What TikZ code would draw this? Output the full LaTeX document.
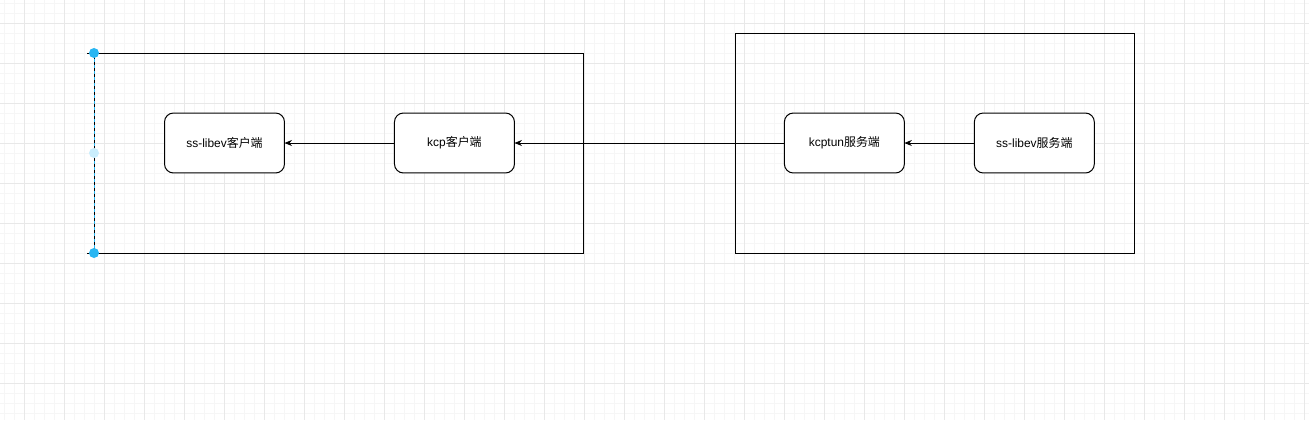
\documentclass[tikz,border=0pt]{standalone}
\usepackage{fontspec}
\setmainfont{Liberation Sans}
\newfontfamily\cjk{Noto Sans CJK SC}
\usetikzlibrary{arrows.meta, positioning}
\definecolor{GridMinor}{RGB}{246,246,246}
\definecolor{GridMajor}{RGB}{232,232,232}
\definecolor{HandleBlue}{RGB}{41,182,242}

\begin{document}
\begin{tikzpicture}[x=0.02cm, y=-0.02cm, line width=0.57pt, node distance=2.2cm,
    svc/.style={draw, fill=white, rounded corners=0.18cm, minimum width=2.4cm, minimum height=1.2cm, inner sep=0pt, outer sep=0pt, font=\fontsize{6.8}{8}\selectfont},
    conn/.style={-{Stealth[length=0.15cm, width=0.12cm]}},
    grip/.style={circle, fill=HandleBlue, inner sep=0pt, minimum size=0.2cm},
    selline/.style={HandleBlue, dash pattern=on 0.06cm off 0.06cm}]

    \useasboundingbox (0,0) rectangle (1309,420);

    % Grid
    \foreach \gx in {4,14,...,1304} \draw[GridMinor, line width=0.4pt] (\gx,0) -- (\gx,420);
    \foreach \gy in {3,13,...,413} \draw[GridMinor, line width=0.4pt] (0,\gy) -- (1309,\gy);
    \foreach \gx in {24,64,...,1304} \draw[GridMajor, line width=0.4pt] (\gx,0) -- (\gx,420);
    \foreach \gy in {23,63,...,383} \draw[GridMajor, line width=0.4pt] (0,\gy) -- (1309,\gy);

    % Frames
    \draw (87,53) -- (583,53) -- (583,253) -- (87,253);
    \draw (94,53) -- (94,253);
    \draw[selline] (94,53) -- (94,253);
    \draw (735,33) rectangle (1134,253);

    % Nodes
    \node [svc] at (224.5,143) (ssclient) {ss-libev{\cjk 客户端}};
    \node [svc, right=of ssclient] (kcpclient) {kcp{\cjk 客户端}};
    \node [svc, right=5.4cm of kcpclient] (kcptun) {kcptun{\cjk 服务端}};
    \node [svc, right=1.4cm of kcptun] (ssserver) {ss-libev{\cjk 服务端}};

    \node [grip] at (94,53) (gripTop) {};
    \node [grip] at (94,253) (gripBottom) {};
    \node [grip, fill=HandleBlue!25] at (94,153) (gripMid) {};

    % Connectors
    \draw [conn] (kcpclient) -- (ssclient);
    \draw [conn] (kcptun) -- (kcpclient);
    \draw [conn] (ssserver) -- (kcptun);
\end{tikzpicture}
\end{document}
